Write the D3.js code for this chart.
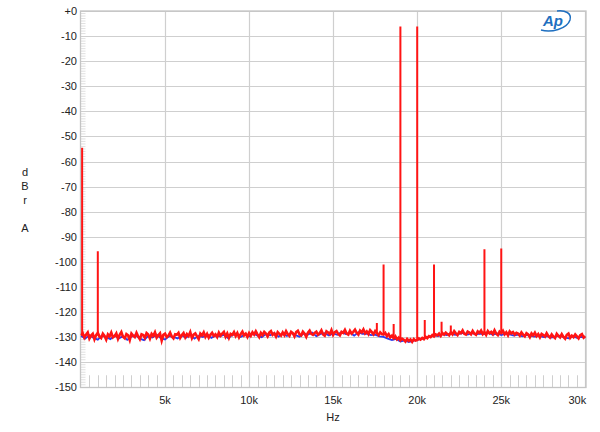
<!DOCTYPE html>
<html><head><meta charset="utf-8">
<script src="https://cdn.jsdelivr.net/npm/d3@7"></script>
<style>
html,body{margin:0;padding:0;background:#fff;}
svg{display:block;font-family:"Liberation Sans",Arial,sans-serif;}
</style></head>
<body><svg id="c" width="600" height="432"></svg>
<script>
// ---- data ----
const yTicks = [0,-10,-20,-30,-40,-50,-60,-70,-80,-90,-100,-110,-120,-130,-140,-150];
const yTickLabels = ["+0","-10","-20","-30","-40","-50","-60","-70","-80","-90","-100","-110","-120","-130","-140","-150"];
const xTicks = [5000,10000,15000,20000,25000,30000];
const xTickLabels = ["5k","10k","15k","20k","25k","30k"];
const yLabelLines = ["d","B","r","","A"];
const xLabel = "Hz";

// red channel noise floor, every 100 Hz from 0 to 30 kHz (dBr A)
const redStepHz = 100;
const redFloor = [
-129.3,-128.4,-130.2,-129.0,-128.1,-130.6,-129.4,-128.7,-130.9,-129.2,-128.3,-129.8,-130.4,-128.6,-129.5,-131.0,-128.9,-129.7,-128.2,-130.1,
-129.6,-128.5,-130.7,-129.1,-128.0,-129.9,-130.5,-128.8,-129.3,-131.2,-128.6,-129.4,-130.0,-128.3,-129.7,-130.8,-128.9,-129.2,-130.3,-128.4,
-129.0,-130.6,-128.7,-129.5,-128.1,-130.2,-129.3,-128.5,-131.4,-129.1,-128.6,-130.0,-129.4,-128.2,-129.8,-130.5,-128.9,-129.1,-128.3,-130.3,
-129.2,-128.4,-130.1,-128.8,-129.6,-128.0,-130.4,-129.0,-128.5,-129.7,-130.8,-128.6,-129.3,-128.1,-129.9,-128.7,-130.2,-129.1,-128.3,-129.5,
-128.9,-130.0,-128.2,-129.4,-128.6,-127.9,-129.8,-128.5,-130.3,-128.7,-129.1,-128.0,-129.6,-128.4,-130.1,-128.8,-127.8,-129.3,-128.6,-129.9,
-128.4,-129.5,-128.1,-129.0,-127.7,-128.9,-130.0,-128.3,-129.2,-127.9,-128.6,-129.7,-128.2,-127.6,-129.1,-128.5,-129.8,-128.0,-128.7,-129.4,
-128.1,-129.2,-127.6,-128.8,-129.5,-127.9,-128.4,-129.7,-128.0,-127.5,-128.9,-129.3,-127.8,-128.6,-129.9,-128.2,-127.4,-128.7,-129.1,-128.3,
-127.8,-129.0,-128.4,-127.3,-128.9,-129.4,-127.7,-128.2,-128.8,-127.2,-129.1,-128.0,-127.6,-128.7,-129.3,-127.9,-128.3,-127.1,-128.6,-129.0,
-127.5,-128.6,-127.9,-127.0,-128.3,-129.0,-127.4,-128.1,-126.9,-128.5,-127.7,-128.8,-127.2,-128.0,-128.9,-127.6,-128.4,-129.2,-128.1,-128.8,
-129.0,-128.3,-129.6,-128.8,-130.1,-129.4,-130.5,-129.7,-130.9,-130.2,-131.3,-130.6,-131.0,-131.8,-130.7,-131.5,-130.9,-131.9,-130.8,-131.4,
-131.2,-130.5,-131.0,-130.3,-130.8,-129.9,-130.4,-129.6,-130.0,-129.2,-129.7,-128.9,-129.3,-128.6,-129.5,-128.4,-129.0,-128.2,-128.8,-129.3,
-128.1,-128.9,-127.6,-128.5,-129.2,-127.9,-128.4,-127.3,-128.7,-129.0,-127.8,-128.2,-128.9,-127.5,-128.6,-129.1,-127.7,-128.3,-127.4,-128.8,
-128.0,-129.1,-127.6,-128.5,-127.9,-128.8,-127.3,-128.6,-129.2,-127.8,-128.4,-127.5,-128.9,-128.1,-129.3,-127.7,-128.5,-128.0,-129.0,-128.3,
-128.6,-129.4,-128.1,-129.0,-129.7,-128.4,-128.9,-130.0,-128.5,-129.3,-128.2,-129.6,-128.8,-130.1,-128.7,-129.2,-129.8,-128.4,-129.5,-130.2,
-128.9,-129.8,-130.4,-128.7,-129.5,-130.1,-128.8,-129.9,-130.6,-129.1,-128.6,-130.3,-129.4,-130.0,-128.9,-129.7,-130.5,-129.2,-128.8,-130.2,
-129.6
];

// blue channel noise floor, every 250 Hz from 0 to 30 kHz
const blueStepHz = 250;
const blueFloor = [
-129.5,-130.6,-129.2,-130.3,-131.0,-129.4,-130.0,-130.8,-129.3,-130.5,-129.6,-131.1,
-129.8,-129.2,-130.6,-131.2,-129.5,-130.1,-129.0,-130.4,-130.9,-129.6,-129.9,-130.5,
-129.3,-130.2,-128.9,-130.6,-129.5,-130.0,-128.8,-130.3,-129.4,-129.7,-129.1,-130.4,
-129.2,-128.6,-129.9,-129.0,-129.7,-128.5,-129.4,-130.0,-128.8,-129.3,-128.4,-129.8,
-128.7,-129.5,-128.3,-129.2,-129.8,-128.6,-129.0,-128.2,-129.6,-128.7,-128.4,-129.3,
-128.5,-129.1,-128.0,-128.8,-128.3,-129.4,-128.1,-128.7,-128.6,-129.2,-129.0,-129.7,
-129.9,-130.6,-131.2,-130.7,-131.8,-131.3,-132.0,-131.5,-131.1,-130.7,-130.2,-129.8,
-129.3,-129.6,-128.8,-129.2,-128.5,-129.1,-128.7,-128.3,-129.0,-128.4,-128.9,-128.6,
-128.8,-128.3,-129.1,-128.5,-129.2,-128.6,-128.9,-129.4,-129.0,-129.7,-129.1,-129.5,
-129.8,-129.3,-130.0,-129.6,-130.2,-129.7,-129.4,-130.1,-130.5,-129.6,-130.3,-129.9,
-130.1
];

// discrete spectral lines (Hz, dBr A)
const spikeFreqs = [20, 1000, 17600, 18000, 18600, 19000, 20000, 20450, 21000, 21450, 22000, 24000, 25000];
const spikeLevels = [-54.5, -95.8, -124.4, -101.0, -124.8, -6.2, -6.2, -123.2, -101.0, -123.9, -125.4, -95.0, -94.7];

// ---- layout ----
const svg = d3.select("#c");
const L = 80.5, R = 586, T = 11, B = 387.5;
const x = d3.scaleLinear().domain([0, 30000]).range([81, 585.3]);
const y = d3.scaleLinear().domain([-150, 0]).range([387.3, 11]);

const gridCol = "#cfcfcf";
const g = svg.append("g");

g.selectAll("line.hg").data(yTicks).join("line")
  .attr("x1", L).attr("x2", R)
  .attr("y1", d => Math.round(y(d)) + 0.5).attr("y2", d => Math.round(y(d)) + 0.5)
  .attr("stroke", gridCol).attr("stroke-width", 1.2);

g.selectAll("line.vg").data(xTicks).join("line")
  .attr("x1", d => Math.round(x(d)) + 0.5).attr("x2", d => Math.round(x(d)) + 0.5)
  .attr("y1", T).attr("y2", B)
  .attr("stroke", gridCol).attr("stroke-width", 1.2);

const yMinor = d3.range(-150, 0.01, 1).filter(v => v % 10 !== 0);
g.selectAll("line.ym").data(yMinor).join("line")
  .attr("x1", L).attr("x2", L + 5)
  .attr("y1", d => y(d)).attr("y2", d => y(d))
  .attr("stroke", "#d8d8d8").attr("stroke-width", 0.8);

const xMinor = d3.range(500, 30000, 500).filter(v => v % 5000 !== 0);
g.selectAll("line.xm").data(xMinor).join("line")
  .attr("x1", d => Math.round(x(d)) + 0.5).attr("x2", d => Math.round(x(d)) + 0.5)
  .attr("y1", y(-145.2)).attr("y2", B)
  .attr("stroke", "#cfcfcf").attr("stroke-width", 1);

g.append("rect").attr("x", L).attr("y", T).attr("width", R - L).attr("height", B - T)
  .attr("fill", "none").attr("stroke", "#c4c4c4").attr("stroke-width", 1.3);

svg.selectAll("text.yl").data(yTicks).join("text")
  .attr("x", 77).attr("y", d => y(d) + 4)
  .attr("text-anchor", "end").attr("font-size", 11).attr("fill", "#222")
  .text((d, i) => yTickLabels[i]);

svg.selectAll("text.xl").data(xTicks).join("text")
  .attr("x", (d, i) => i === xTicks.length - 1 ? x(d) - 8 : x(d))
  .attr("y", 404)
  .attr("text-anchor", "middle").attr("font-size", 11).attr("fill", "#222")
  .text((d, i) => xTickLabels[i]);

svg.append("text").attr("x", 333).attr("y", 421).attr("text-anchor", "middle")
  .attr("font-size", 11).attr("fill", "#222").text(xLabel);
svg.selectAll("text.yt").data(yLabelLines).join("text")
  .attr("x", 25).attr("y", (d, i) => 176 + i * 14).attr("text-anchor", "middle")
  .attr("font-size", 11).attr("fill", "#222").text(d => d);

svg.append("clipPath").attr("id", "pc").append("rect")
  .attr("x", L).attr("y", T).attr("width", R - L).attr("height", B - T);
const plot = svg.append("g").attr("clip-path", "url(#pc)");

const blueData = blueFloor.map((v, i) => ({f: i * blueStepHz, v}));
const redData = redFloor.map((v, i) => ({f: i * redStepHz, v}));
const line = d3.line().x(d => x(d.f)).y(d => y(d.v));

plot.append("path").datum(blueData).attr("d", line)
  .attr("fill", "none").attr("stroke", "#2a3cf0").attr("stroke-width", 1.8);
plot.append("path").datum(redData).attr("d", line)
  .attr("fill", "none").attr("stroke", "#ff1414").attr("stroke-width", 2.6)
  .attr("stroke-linejoin", "miter");

const floorAt = f => redFloor[Math.min(redFloor.length - 1, Math.round(f / redStepHz))];
plot.selectAll("line.sp").data(spikeFreqs).join("line")
  .attr("x1", d => x(d) + (d < 100 ? 0.8 : 0)).attr("x2", d => x(d) + (d < 100 ? 0.8 : 0))
  .attr("y1", d => y(floorAt(d)))
  .attr("y2", (d, i) => y(spikeLevels[i]))
  .attr("stroke", "#ff1414").attr("stroke-width", 2);

// AP logo
const logo = svg.append("g").attr("transform", "translate(554,21)");
logo.append("path")
  .attr("d", "M-13,9 C-3,12 13,8 16,-1 C18,-8 11,-11 3,-10")
  .attr("fill", "none").attr("stroke", "#1e6fc0").attr("stroke-width", 1.5);
logo.append("text").attr("x", -1).attr("y", 5).attr("text-anchor", "middle")
  .attr("font-size", 15).attr("font-style", "italic").attr("font-weight", "bold")
  .attr("fill", "#1e6fc0").attr("font-family", "'Liberation Sans',Arial,sans-serif")
  .text("Ap");
</script></body></html>
